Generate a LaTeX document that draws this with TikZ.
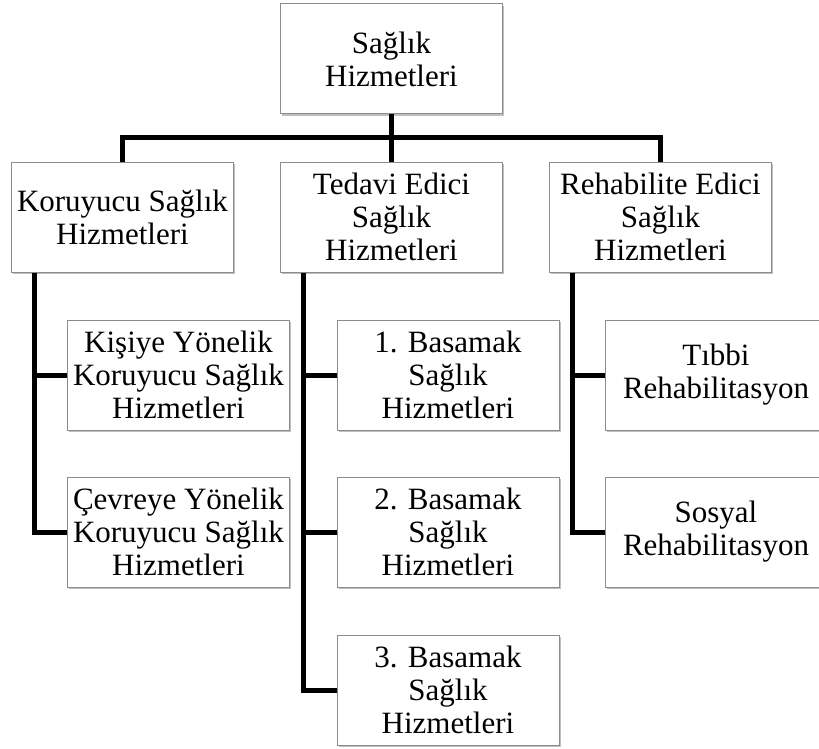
\documentclass[tikz,border=0pt]{standalone}
\usepackage{fontspec}
\setmainfont{Liberation Serif}
\usetikzlibrary{shadows}
\definecolor{boxgray}{gray}{0.55}

\begin{document}
\begin{tikzpicture}[x=1pt,y=-1pt,
  box/.style={draw=boxgray, line width=1pt, fill=white,
    minimum width=222pt, minimum height=110pt, inner sep=0pt,
    align=center, font=\fontsize{31}{33}\selectfont,
    drop shadow={shadow xshift=1.5pt, shadow yshift=-2pt, fill=black, opacity=0.25}},
  link/.style={line width=5pt}]
\useasboundingbox (0,0) rectangle (819,749);

% root and first level
\node[box] (top) at (391.5,59) {Sağlık\\Hizmetleri};
\node[box] (kor) at (122.5,217) {Koruyucu Sağlık\\Hizmetleri};
\node[box] (ted) at (391.5,217) {Tedavi Edici\\Sağlık\\Hizmetleri};
\node[box] (reh) at (660.5,217) {Rehabilite Edici\\Sağlık\\Hizmetleri};

% second level
\node[box] (kis) at (178.5,375) {Kişiye Yönelik\\Koruyucu Sağlık\\Hizmetleri};
\node[box] (cev) at (178.5,532) {Çevreye Yönelik\\Koruyucu Sağlık\\Hizmetleri};
\node[box] (b1) at (448,375) {1. Basamak\\Sağlık\\Hizmetleri};
\node[box] (b2) at (448,532) {2. Basamak\\Sağlık\\Hizmetleri};
\node[box] (b3) at (448,690) {3. Basamak\\Sağlık\\Hizmetleri};
\node[box] (tib) at (716,375) {Tıbbi\\Rehabilitasyon};
\node[box] (sos) at (716,532) {Sosyal\\Rehabilitasyon};

% top bar
\coordinate (bar) at (0,138);
\draw[link] (top.south) -- (ted.north);
\draw[link] (kor.north) -- (kor.north |- bar) -- (reh.north |- bar) -- (reh.north);

% trunks to the second level
\coordinate (kt) at ([xshift=23pt]kor.south west);
\coordinate (tt) at ([xshift=23pt]ted.south west);
\coordinate (rt) at ([xshift=23pt]reh.south west);
\draw[link] (kt) |- (kis.west);
\draw[link] (kt) |- (cev.west);
\draw[link] (tt) |- (b1.west);
\draw[link] (tt) |- (b2.west);
\draw[link] (tt) |- (b3.west);
\draw[link] (rt) |- (tib.west);
\draw[link] (rt) |- (sos.west);
\end{tikzpicture}
\end{document}
